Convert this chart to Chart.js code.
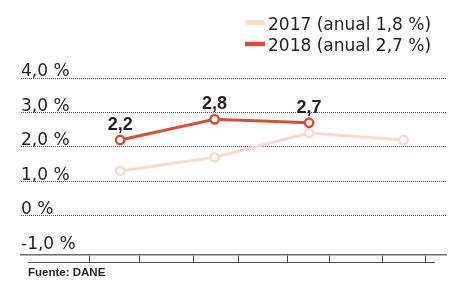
<!DOCTYPE html>
<html><head><meta charset="utf-8">
<script src="https://cdn.jsdelivr.net/npm/chart.js@4.4.1/dist/chart.umd.min.js"></script>
<style>html,body{margin:0;padding:0;background:#fff}#wrap{width:461px;height:281px;position:relative}</style>
</head><body><div id="wrap"><canvas id="c"></canvas></div>
<script>
// ---- data ----
const quarters = ['I', 'II', 'III', 'IV'];
const quarterPos = [1, 2, 3, 4];
const values2017 = [1.3, 1.7, 2.4, 2.2];
const values2018 = [2.2, 2.8, 2.7];
const seriesNames = ['2017 (anual 1,8 %)', '2018 (anual 2,7 %)'];
const yTickValues = [-1, 0, 1, 2, 3, 4];
const yTickLabels = ['-1,0 %', '0 %', '1,0 %', '2,0 %', '3,0 %', '4,0 %'];
const xTickMarks = [0.671, 1.201, 1.774, 2.251, 2.771, 3.216, 3.778, 4.234];
const sourceText = 'Fuente: DANE';

const colors = ['#f9dacd', '#d64e36'];
const textColor = '#231f20';

const toPoints = vals => vals.map((v, i) => ({x: quarterPos[i], y: v, q: quarters[i]}));
const fmt = v => v.toFixed(1).replace('.', ',');

const extras = {
  id: 'extras',
  afterDatasetsDraw(chart) {
    const ctx = chart.ctx;
    ctx.save();
    chart.data.datasets.forEach((ds, di) => {
      if (!ds.showValues) return;
      const meta = chart.getDatasetMeta(di);
      ctx.font = 'bold 18px "Liberation Sans", Arial, sans-serif';
      ctx.fillStyle = textColor;
      ctx.textAlign = 'center';
      ctx.textBaseline = 'alphabetic';
      meta.data.forEach((pt, i) => {
        ctx.fillText(fmt(ds.data[i].y), pt.x, pt.y - 10);
      });
    });
    ctx.restore();
  },
  afterDraw(chart) {
    const ctx = chart.ctx;
    const a = chart.chartArea;
    ctx.save();
    // second baseline of the axis
    ctx.strokeStyle = '#555';
    ctx.lineWidth = 1.2;
    ctx.beginPath();
    ctx.moveTo(a.left + 7, a.bottom + 7.5);
    ctx.lineTo(a.right - 11, a.bottom + 7.5);
    ctx.stroke();
    // legend
    const order = [0, 1];
    order.forEach((di, row) => {
      const ds = chart.data.datasets[di];
      const cy = 22.5 + row * 21.5;
      ctx.strokeStyle = ds.borderColor;
      ctx.lineWidth = 4.5;
      ctx.beginPath();
      ctx.moveTo(245, cy);
      ctx.lineTo(265, cy);
      ctx.stroke();
      ctx.font = '17px "DejaVu Sans", sans-serif';
      ctx.fillStyle = textColor;
      ctx.textAlign = 'left';
      ctx.textBaseline = 'alphabetic';
      ctx.fillText(ds.label, 268, cy + 7);
    });
    // source
    ctx.font = 'bold 11.5px "Liberation Sans", Arial, sans-serif';
    ctx.fillStyle = textColor;
    ctx.textAlign = 'left';
    ctx.fillText(sourceText, 28, 275.5);
    ctx.restore();
  }
};

new Chart(document.getElementById('c'), {
  type: 'line',
  data: {
    datasets: [
      {label: seriesNames[0], data: toPoints(values2017), borderColor: colors[0], backgroundColor: '#fff',
       borderWidth: 3, pointRadius: 4.2, pointBorderWidth: 2.5, pointBackgroundColor: '#fff', pointBorderColor: colors[0], order: 2, tension: 0},
      {label: seriesNames[1], data: toPoints(values2018), borderColor: colors[1], backgroundColor: '#fff',
       borderWidth: 3, pointRadius: 4.2, pointBorderWidth: 2.5, pointBackgroundColor: '#fff', pointBorderColor: colors[1], order: 1, tension: 0, showValues: true}
    ]
  },
  options: {
    responsive: true,
    maintainAspectRatio: false,
    animation: false,
    devicePixelRatio: 1,
    layout: {padding: {left: 21, right: 15, top: 78, bottom: 19}},
    plugins: {legend: {display: false}, tooltip: {enabled: false}},
    scales: {
      x: {
        type: 'linear', min: -0.05, max: 4.45,
        afterBuildTicks: axis => { axis.ticks = xTickMarks.map(v => ({value: v})); },
        ticks: {display: false},
        grid: {drawOnChartArea: false, drawTicks: true, tickLength: 7, tickColor: '#444', tickWidth: 1},
        border: {display: true, color: '#6d6d6d', width: 1.5}
      },
      y: {
        min: -1.14, max: 4,
        afterBuildTicks: axis => { axis.ticks = yTickValues.map(v => ({value: v})); },
        ticks: {
          mirror: true, padding: 0, labelOffset: -6, color: textColor,
          font: {family: '"DejaVu Sans", sans-serif', size: 17},
          callback: v => yTickLabels[yTickValues.indexOf(v)]
        },
        grid: {
          drawTicks: false, lineWidth: 1,
          color: c => (c.tick && c.tick.value === -1) ? 'rgba(0,0,0,0)' : '#555'
        },
        border: {display: false, dash: [1, 1]}
      }
    }
  },
  plugins: [extras]
});
</script>
</body></html>
